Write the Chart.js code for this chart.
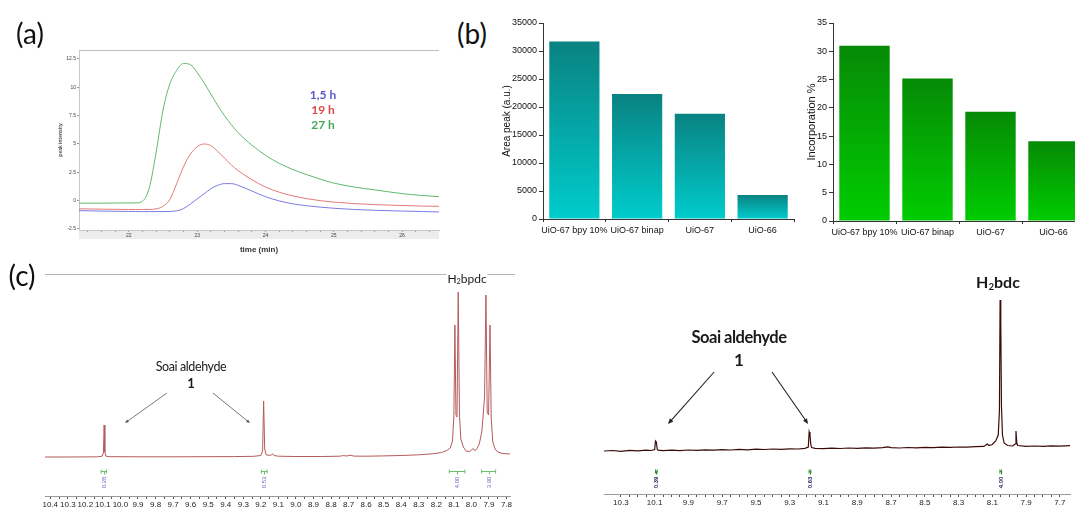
<!DOCTYPE html>
<html>
<head>
<meta charset="utf-8">
<script src="https://cdn.jsdelivr.net/npm/chart.js@4.4.0/dist/chart.umd.min.js"></script>
<style>
  html, body { margin: 0; padding: 0; background: #fff; }
  body { position: relative; width: 1075px; height: 508px; overflow: hidden; font-family: "Liberation Sans", Arial, sans-serif; }
  .box { position: absolute; }
  .box canvas { display: block; }
  .txt { position: absolute; transform: translate(-50%, -50%); white-space: nowrap; font-family: Lato, "Open Sans", sans-serif; color: #1a1a1a; line-height: 1; }
  .txt sub { font-size: 0.6em; vertical-align: -0.25em; }
  .panel { font-size: 28px; color: #111; }
</style>
</head>
<body>

<div class="box" style="left:40px;top:40px;width:410px;height:225px"><canvas id="chartA" width="410" height="225"></canvas></div>
<div class="box" style="left:495px;top:10px;width:300px;height:235px"><canvas id="chartB1" width="300" height="235"></canvas></div>
<div class="box" style="left:785px;top:10px;width:300px;height:235px"><canvas id="chartB2" width="300" height="235"></canvas></div>
<div class="box" style="left:30px;top:265px;width:490px;height:243px"><canvas id="chartC1" width="490" height="243"></canvas></div>
<div class="box" style="left:590px;top:265px;width:485px;height:243px"><canvas id="chartC2" width="485" height="243"></canvas></div>

<div class="box" style="left:45px;top:274px;width:470px;height:1px;background:#b4b4b4"></div>

<div class="txt panel" style="left:30px;top:33px">(a)</div>
<div class="txt panel" style="left:472px;top:33px">(b)</div>
<div class="txt panel" style="left:22px;top:275px">(c)</div>

<div class="txt" style="left:323px;top:95px;font-size:12px;font-weight:bold;color:#5757c8">1,5 h</div>
<div class="txt" style="left:323px;top:110px;font-size:12px;font-weight:bold;color:#d94848">19 h</div>
<div class="txt" style="left:323px;top:125px;font-size:12px;font-weight:bold;color:#3fa85a">27 h</div>

<div class="txt" style="left:191px;top:367px;font-size:12.5px;letter-spacing:-0.4px">Soai aldehyde</div>
<div class="txt" style="left:191px;top:383px;font-size:13px;font-weight:bold">1</div>
<div class="txt" style="left:467px;top:279px;font-size:12px;background:#fff;padding:0 1px">H<sub>2</sub>bpdc</div>

<div class="txt" style="left:739px;top:337px;font-size:16.5px;font-weight:bold;letter-spacing:-0.5px">Soai aldehyde</div>
<div class="txt" style="left:739px;top:359px;font-size:17px;font-weight:bold">1</div>
<div class="txt" style="left:998px;top:283px;font-size:16px;font-weight:bold">H<sub>2</sub>bdc</div>

<script>
// ================== Data (a) ==================
const timeMin = [21.27, 21.6, 22.0, 22.1, 22.2, 22.3, 22.4, 22.5, 22.6, 22.7, 22.8, 22.9, 23.0, 23.1, 23.2, 23.3, 23.4, 23.5, 23.6, 23.8, 24.0, 24.2, 24.4, 24.6, 24.8, 25.0, 25.3, 25.6, 26.0, 26.3, 26.54];
const blue15h = [-0.88, -0.92, -0.95, -0.96, -0.97, -0.97, -0.97, -0.97, -0.95, -0.9, -0.7, -0.3, 0.15, 0.6, 1.05, 1.35, 1.5, 1.5, 1.35, 0.85, 0.35, -0.02, -0.28, -0.45, -0.57, -0.67, -0.78, -0.85, -0.92, -0.96, -1.0];
const red19h = [-0.72, -0.75, -0.78, -0.78, -0.78, -0.78, -0.72, -0.5, 0.1, 1.5, 3.0, 4.1, 4.75, 5.0, 4.85, 4.35, 3.75, 3.15, 2.65, 1.85, 1.2, 0.75, 0.42, 0.18, 0.0, -0.13, -0.26, -0.35, -0.43, -0.48, -0.5];
const green27h = [-0.22, -0.22, -0.2, -0.2, -0.05, 1.15, 4.3, 8.0, 10.3, 11.5, 12.1, 12.0, 11.3, 10.4, 9.4, 8.4, 7.5, 6.7, 6.0, 4.9, 4.0, 3.3, 2.75, 2.3, 1.9, 1.55, 1.2, 0.95, 0.62, 0.45, 0.35];
const aTicksX = [22, 23, 24, 25, 26];
const aTicksY = [-2.5, 0, 2.5, 5, 7.5, 10, 12.5];

// ================== Data (b) ==================
const samples = ["UiO-67 bpy 10%", "UiO-67 binap", "UiO-67", "UiO-66"];
const areaPeak = [31700, 22300, 18800, 4300];
const incorporation = [31.0, 25.2, 19.3, 14.1];
const areaTicks = [0, 5000, 10000, 15000, 20000, 25000, 30000, 35000];
const incTicks = [0, 5, 10, 15, 20, 25, 30, 35];

// ================== Data (c) ==================
const c1Ppm = [10.43, 10.30, 10.20, 10.13, 10.105, 10.097, 10.093, 10.089, 10.083, 10.06, 9.90, 9.70, 9.50, 9.35, 9.24, 9.20, 9.190, 9.184, 9.178, 9.170, 9.150, 9.138, 9.132, 9.125, 9.10, 9.00, 8.85, 8.75, 8.73, 8.71, 8.69, 8.67, 8.60, 8.50, 8.40, 8.30, 8.22, 8.17, 8.14, 8.12, 8.108, 8.100, 8.094, 8.088, 8.082, 8.075, 8.068, 8.060, 8.046, 8.030, 8.010, 7.998, 7.990, 7.982, 7.975, 7.968, 7.955, 7.940, 7.925, 7.917, 7.910, 7.902, 7.894, 7.887, 7.878, 7.865, 7.85, 7.82, 7.78];
const c1Int = [0, 0, 0.1, 0.2, 0.8, 4, 32, 5, 0.8, 0.3, 0.2, 0.2, 0.3, 0.4, 0.7, 1.5, 6, 56, 8, 2.2, 1.6, 2.2, 3.2, 1.5, 0.8, 0.5, 0.5, 0.8, 1.4, 1.0, 1.8, 0.9, 0.8, 1.1, 1.5, 2.2, 3.2, 4.5, 6.5, 9, 16, 40, 132, 42, 40, 165, 42, 18, 10, 6, 5.5, 7, 8.5, 6.5, 7, 8.5, 13, 26, 60, 162, 45, 42, 132, 38, 15, 8, 5, 3.5, 3];
const c1Ticks = [10.4, 10.3, 10.2, 10.1, 10.0, 9.9, 9.8, 9.7, 9.6, 9.5, 9.4, 9.3, 9.2, 9.1, 9.0, 8.9, 8.8, 8.7, 8.6, 8.5, 8.4, 8.3, 8.2, 8.1, 8.0, 7.9, 7.8];
const c1IntRanges = [[10.11, 10.08], [9.197, 9.164], [8.126, 8.037], [7.942, 7.862]];
const c1IntLabels = ["0.28", "0.53", "4.00", "3.90"];

const c2Ppm = [10.40, 10.35, 10.30, 10.25, 10.20, 10.15, 10.12, 10.10, 10.095, 10.09, 10.085, 10.08, 10.05, 10.00, 9.95, 9.90, 9.85, 9.80, 9.75, 9.70, 9.65, 9.60, 9.55, 9.50, 9.45, 9.40, 9.35, 9.30, 9.25, 9.21, 9.19, 9.185, 9.18, 9.175, 9.17, 9.15, 9.10, 9.05, 9.00, 8.95, 8.90, 8.85, 8.80, 8.75, 8.72, 8.70, 8.65, 8.60, 8.55, 8.50, 8.45, 8.40, 8.35, 8.30, 8.25, 8.20, 8.15, 8.13, 8.12, 8.10, 8.08, 8.065, 8.058, 8.054, 8.050, 8.046, 8.040, 8.030, 8.010, 7.980, 7.965, 7.960, 7.955, 7.950, 7.90, 7.85, 7.80, 7.75, 7.70, 7.64];
const c2Int = [0, 0.5, -0.3, 0.6, 0.2, 0.8, 0.5, 1.5, 10, 9, 2, 0.8, 0.3, 0.9, 0.4, 1.0, 0.6, 1.2, 0.8, 1.4, 1.0, 1.6, 1.2, 1.8, 1.5, 2.0, 1.6, 2.2, 2.0, 2.6, 4, 19, 16, 6, 3.5, 2.6, 2.4, 2.8, 2.5, 3.0, 2.7, 3.2, 2.9, 3.4, 4.2, 3.3, 3.0, 3.5, 3.2, 3.7, 3.4, 3.9, 3.6, 4.0, 3.8, 4.3, 4.6, 7, 5.5, 6.5, 10, 16, 40, 151, 130, 45, 16, 8, 5.5, 5, 7, 20, 8, 5.5, 4.6, 5.0, 4.6, 5.2, 4.8, 5.3];
const c2Ticks = [10.3, 10.1, 9.9, 9.7, 9.5, 9.3, 9.1, 8.9, 8.7, 8.5, 8.3, 8.1, 7.9, 7.7];
const c2IntRanges = [[10.095, 10.085], [9.185, 9.175], [8.055, 8.045]];
const c2IntLabels = ["0.39", "0.63", "4.00"];

// ================== Helpers ==================
Chart.defaults.font.family = "'Liberation Sans', Arial, sans-serif";
Chart.defaults.animation = false;

function setTicks(list) {
  return (axis) => { axis.ticks = list.map(v => ({ value: v })); };
}

function fixWidth(w) {
  return (scale) => { scale.width = w; };
}

function fixHeight(h) {
  return (scale) => { scale.height = h; };
}

// add minor ticks between labelled ones
function withMinor(labels, parts) {
  let out = [];
  for (let i = 0; i < labels.length; i++) {
    out.push(labels[i]);
    if (i < labels.length - 1) {
      for (let k = 1; k < parts; k++) {
        out.push(labels[i] + (labels[i + 1] - labels[i]) * k / parts);
      }
    }
  }
  return out;
}

function hasLabel(list, v) {
  return list.some(t => Math.abs(t - v) < 1e-6);
}

function barGradient(top, bottom) {
  return (ctx) => {
    const chart = ctx.chart;
    if (!chart.chartArea || ctx.type !== "data") return bottom;
    const ys = chart.scales.y;
    const y0 = ys.getPixelForValue(ctx.parsed.y);
    const y1 = ys.getPixelForValue(0);
    const g = chart.ctx.createLinearGradient(0, y0, 0, y1);
    g.addColorStop(0, top);
    g.addColorStop(1, bottom);
    return g;
  };
}

function points(xs, ys) {
  return xs.map((x, i) => ({ x: x, y: ys[i] }));
}

// ================== (a) chromatogram ==================
const aFrame = {
  id: "aFrame",
  beforeDraw(chart) {
    const { ctx, chartArea: a } = chart;
    ctx.save();
    ctx.fillStyle = "#ececec";
    ctx.fillRect(a.left, a.bottom, a.right - a.left, 9);
    ctx.strokeStyle = "#bdbdbd";
    ctx.lineWidth = 1;
    ctx.beginPath();
    ctx.moveTo(a.left, a.top + 0.5);
    ctx.lineTo(a.right, a.top + 0.5);
    ctx.stroke();
    ctx.restore();
  }
};

function aLine(label, data, color) {
  return {
    label: label,
    data: points(timeMin, data),
    borderColor: color,
    borderWidth: 1,
    pointRadius: 0,
    cubicInterpolationMode: "monotone",
    fill: false
  };
}

new Chart(document.getElementById("chartA"), {
  type: "line",
  data: {
    datasets: [
      aLine("1,5 h", blue15h, "#7b7be0"),
      aLine("19 h", red19h, "#e57a7a"),
      aLine("27 h", green27h, "#5fb870")
    ]
  },
  plugins: [aFrame],
  options: {
    responsive: false,
    layout: { padding: { left: 18, top: 10, right: 11, bottom: 0 } },
    plugins: { legend: { display: false }, tooltip: { enabled: false } },
    scales: {
      x: {
        type: "linear", min: 21.27, max: 26.54,
        afterBuildTicks: setTicks([21.4, 21.6, 21.8].concat(withMinor(aTicksX, 5), [26.2, 26.4])),
        afterFit: fixHeight(35),
        grid: { drawOnChartArea: false, tickLength: 2, color: "#999" },
        border: { color: "#c8c8c8" },
        ticks: {
          font: { size: 5 }, color: "#444", padding: 1, maxRotation: 0, autoSkip: false,
          callback: (v) => hasLabel(aTicksX, v) ? String(v) : ""
        },
        title: { display: true, text: "time (min)", font: { size: 8, weight: "bold" }, color: "#333", padding: { top: 0, bottom: 10 } }
      },
      y: {
        type: "linear", min: -2.59, max: 13.29,
        afterBuildTicks: setTicks(aTicksY),
        afterFit: fixWidth(21),
        grid: { drawOnChartArea: false, tickLength: 2, color: "#999" },
        border: { color: "#c8c8c8" },
        ticks: { font: { size: 5 }, color: "#444", padding: 1, callback: (v) => String(v) },
        title: { display: true, text: "peak intensity", font: { size: 5, weight: "bold" }, color: "#555", padding: 0 }
      }
    }
  }
});

// ================== (b) bar charts ==================
function barChart(id, values, ticks, max, title, titleSize, top, bottom, pad, yWidth, xHeight) {
  new Chart(document.getElementById(id), {
    type: "bar",
    data: {
      labels: samples,
      datasets: [{
        data: values,
        backgroundColor: barGradient(top, bottom),
        borderWidth: 0,
        barPercentage: 0.8,
        categoryPercentage: 1.0
      }]
    },
    options: {
      responsive: false,
      layout: { padding: pad },
      plugins: { legend: { display: false }, tooltip: { enabled: false } },
      scales: {
        x: {
          afterFit: fixHeight(xHeight),
          grid: { drawOnChartArea: false, offset: true, tickLength: 3, color: "#333" },
          border: { color: "#333" },
          ticks: { font: { size: 9 }, color: "#111", padding: 3, maxRotation: 0, autoSkip: false }
        },
        y: {
          min: 0, max: max,
          afterBuildTicks: setTicks(ticks),
          afterFit: fixWidth(yWidth),
          grid: { drawOnChartArea: false, tickLength: 4, color: "#333" },
          border: { color: "#333" },
          ticks: { font: { size: 9 }, color: "#111", padding: 2, callback: (v) => String(v) },
          title: { display: true, text: title, font: { size: titleSize }, color: "#111", padding: 0 }
        }
      }
    }
  });
}

barChart("chartB1", areaPeak, areaTicks, 35000, "Area peak (a.u.)", 10, "#0a8282", "#00cccc",
  { left: 6, top: 13, right: 1, bottom: 0 }, 42, 26);
barChart("chartB2", incorporation, incTicks, 35, "Incorporation %", 11, "#068a06", "#00cc00",
  { left: 20, top: 13, right: 0, bottom: 0 }, 28, 24);

// ================== (c) NMR spectra ==================
function nmrPlugin(cfg) {
  return {
    id: "nmrExtras",
    afterDatasetsDraw(chart) {
      const ctx = chart.ctx, xs = chart.scales.x, ys = chart.scales.y;
      ctx.save();
      // integrals
      cfg.ranges.forEach((r, i) => {
        const x0 = xs.getPixelForValue(r[0]);
        const x1 = xs.getPixelForValue(r[1]);
        const xm = Math.round((x0 + x1) / 2) + 0.5;
        const yb = Math.round(ys.getPixelForValue(cfg.intY)) + 0.5;
        ctx.strokeStyle = cfg.intColor;
        ctx.lineWidth = 1;
        ctx.beginPath();
        ctx.moveTo(x0, yb); ctx.lineTo(x1, yb);
        ctx.moveTo(x0, yb - 2); ctx.lineTo(x0, yb + 2);
        ctx.moveTo(x1, yb - 2); ctx.lineTo(x1, yb + 2);
        ctx.moveTo(xm, yb); ctx.lineTo(xm, yb + 3);
        ctx.stroke();
        ctx.save();
        ctx.translate(xm, yb + 11);
        ctx.rotate(-Math.PI / 2);
        ctx.fillStyle = cfg.textColor;
        ctx.font = cfg.font;
        ctx.textAlign = "center";
        ctx.textBaseline = "middle";
        ctx.fillText(cfg.labels[i], 0, 0);
        ctx.restore();
      });
      // arrows
      ctx.strokeStyle = cfg.arrowColor;
      ctx.fillStyle = cfg.arrowColor;
      ctx.lineWidth = cfg.arrowWidth;
      cfg.arrows.forEach(a => {
        const px0 = xs.getPixelForValue(a[0]), py0 = ys.getPixelForValue(a[1]);
        const px1 = xs.getPixelForValue(a[2]), py1 = ys.getPixelForValue(a[3]);
        const ang = Math.atan2(py1 - py0, px1 - px0);
        const s = cfg.head;
        ctx.beginPath();
        ctx.moveTo(px0, py0);
        ctx.lineTo(px1 - Math.cos(ang) * s * 0.6, py1 - Math.sin(ang) * s * 0.6);
        ctx.stroke();
        ctx.beginPath();
        ctx.moveTo(px1, py1);
        ctx.lineTo(px1 - s * Math.cos(ang - 0.4), py1 - s * Math.sin(ang - 0.4));
        ctx.lineTo(px1 - s * Math.cos(ang + 0.4), py1 - s * Math.sin(ang + 0.4));
        ctx.closePath();
        ctx.fill();
      });
      ctx.restore();
    }
  };
}

function nmrChart(id, ppm, inten, color, lw, xr, yr, labels, tickList, pad, xHeight, fontSize, plugin) {
  new Chart(document.getElementById(id), {
    type: "line",
    data: {
      datasets: [{
        data: points(ppm, inten),
        borderColor: color,
        borderWidth: lw,
        pointRadius: 0,
        tension: 0,
        fill: false
      }]
    },
    plugins: [plugin],
    options: {
      responsive: false,
      layout: { padding: pad },
      plugins: { legend: { display: false }, tooltip: { enabled: false } },
      scales: {
        x: {
          type: "linear", reverse: true, min: xr[0], max: xr[1],
          afterBuildTicks: setTicks(tickList),
          afterFit: fixHeight(xHeight),
          grid: { drawOnChartArea: false, tickLength: 3, color: "#555" },
          border: { color: "#9a9a9a" },
          ticks: {
            font: { size: fontSize }, color: "#222", padding: 1, maxRotation: 0, autoSkip: false,
            callback: (v) => hasLabel(labels, v) ? v.toFixed(1) : ""
          }
        },
        y: { display: false, min: yr[0], max: yr[1] }
      }
    }
  });
}

nmrChart("chartC1", c1Ppm, c1Int, "#b45a5a", 1, [7.78, 10.43], [-39, 177], c1Ticks,
  withMinor(c1Ticks, 2), { left: 15, top: 15, right: 10, bottom: 0 }, 12, 8,
  nmrPlugin({
    ranges: c1IntRanges, labels: c1IntLabels, intY: -14,
    intColor: "#6cbf6c", textColor: "#6a6ac0", font: "6px 'Liberation Sans'",
    arrows: [[9.735, 64, 9.974, 34], [9.473, 64, 9.262, 34]],
    arrowColor: "#555", arrowWidth: 0.8, head: 4
  }));

nmrChart("chartC2", c2Ppm, c2Int, "#3c0c0c", 1.2, [7.64, 10.40], [-43, 161], c2Ticks,
  withMinor(c2Ticks, 4), { left: 14, top: 25, right: 5, bottom: 0 }, 14, 8,
  nmrPlugin({
    ranges: c2IntRanges, labels: c2IntLabels, intY: -20,
    intColor: "#2e8b2e", textColor: "#1c1c5c", font: "bold 6px 'Liberation Sans'",
    arrows: [[9.748, 79, 10.021, 27], [9.405, 79, 9.191, 27]],
    arrowColor: "#222", arrowWidth: 1.1, head: 6
  }));
</script>
</body>
</html>
